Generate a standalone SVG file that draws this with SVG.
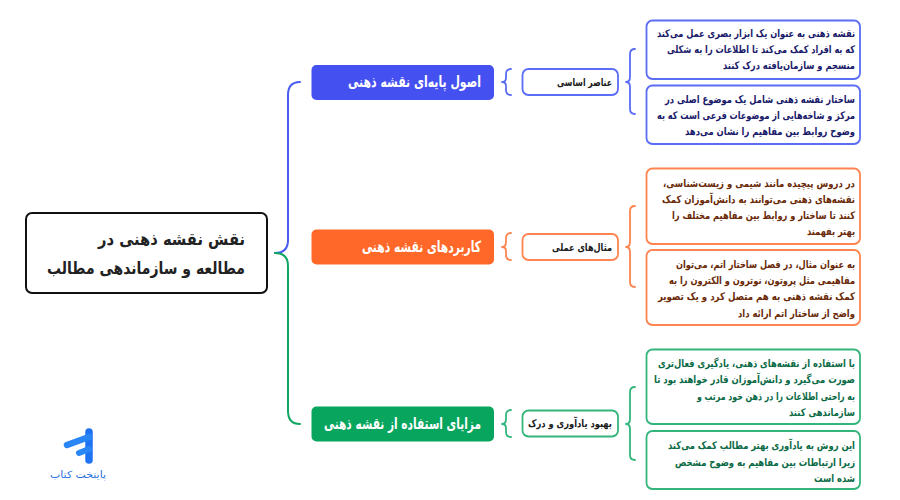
<svg xmlns="http://www.w3.org/2000/svg" width="900" height="500" viewBox="0 0 900 500">
<style>
text{font-family:"DejaVu Sans","Noto Sans",sans-serif;font-weight:700;direction:rtl;text-anchor:start}
.c{fill:none;stroke-width:1.8;stroke-linecap:round;stroke-linejoin:round}
.b{stroke:#5b6cf5}.o{stroke:#ff8450}.g{stroke:#33b57c}
.main{stroke-width:2}
.bx{fill:#fff;stroke-width:1.8}
.t{font-size:10.6px}.s{font-size:10.6px;fill:#1a1a1a}
.h{font-size:15.5px;fill:#fff}
.tb{fill:#1a1a6a}.to{fill:#6a2a08}.tg{fill:#0b6a46}
</style>
<rect width="900" height="500" fill="#fff"/>
<g id="connectors">
<path class="c main" stroke="#4a5cf0" d="M300 82Q288 82 288 95V240Q288 253 275 253"/>
<path class="c main" stroke="#0fa763" d="M300 424Q288 424 288 411V266Q288 253 275 253"/>
<path class="c b" d="M511 69Q506 69 506 74V78Q506 82 502 82Q506 82 506 86V90Q506 95 511 95"/>
<path class="c o" d="M511 233Q506 233 506 238V242Q506 247 502 247Q506 247 506 251V255Q506 260 511 260"/>
<path class="c g" d="M511 410Q506 410 506 415V419Q506 424 502 424Q506 424 506 428V432Q506 437 511 437"/>
<path class="c b" d="M635 49Q630 49 630 54V77Q630 82 626 82Q630 82 630 87V109Q630 114 635 114"/>
<path class="c o" d="M635 206Q630 206 630 211V242Q630 247 626 247Q630 247 630 252V282Q630 287 635 287"/>
<path class="c g" d="M635 387Q630 387 630 392V419Q630 424 626 424Q630 424 630 429V455Q630 460 635 460"/>
</g>
<g id="root">
<rect x="26" y="213" width="241" height="80" rx="6" fill="#fff" stroke="#111" stroke-width="2"/>
<text x="245" y="245" font-size="17" fill="#222" textLength="147" lengthAdjust="spacingAndGlyphs">نقش نقشه ذهنی در</text>
<text x="245" y="274" font-size="17" fill="#222" textLength="198" lengthAdjust="spacingAndGlyphs">مطالعه و سازماندهی مطالب</text>
</g>
<g id="n1"><rect x="311.500" y="65" width="182.500" height="35" rx="5" fill="#4550f0"/><text class="h" x="481" y="87" textLength="133" lengthAdjust="spacingAndGlyphs">اصول پایه‌ای نقشه ذهنی</text></g>
<g id="n2"><rect x="311.500" y="229.500" width="182.500" height="35" rx="5" fill="#ff6828"/><text class="h" x="481" y="252" textLength="119" lengthAdjust="spacingAndGlyphs">کاربردهای نقشه ذهنی</text></g>
<g id="n3"><rect x="311.500" y="406.500" width="182.500" height="35" rx="5" fill="#07a55e"/><text class="h" x="481" y="429" textLength="157" lengthAdjust="spacingAndGlyphs">مزایای استفاده از نقشه ذهنی</text></g>
<g id="n1a"><rect class="bx b" x="522.500" y="69" width="95.500" height="26" rx="6"/><text class="s" x="612" y="86" textLength="55" lengthAdjust="spacingAndGlyphs">عناصر اساسی</text></g>
<g id="n2a"><rect class="bx o" x="522.500" y="234" width="95.500" height="26" rx="6"/><text class="s" x="612" y="251" textLength="60" lengthAdjust="spacingAndGlyphs">مثال‌های عملی</text></g>
<g id="n3a"><rect class="bx g" x="522.500" y="410.500" width="95.500" height="26" rx="6"/><text class="s" x="612" y="427" textLength="84" lengthAdjust="spacingAndGlyphs">بهبود یادآوری و درک</text></g>
<g id="n1a1"><rect class="bx b" x="646.500" y="20.500" width="213.500" height="58.500" rx="6"/>
<text class="t tb" x="855" y="37" textLength="198" lengthAdjust="spacingAndGlyphs">نقشه ذهنی به عنوان یک ابزار بصری عمل می‌کند</text>
<text class="t tb" x="855" y="53" textLength="188" lengthAdjust="spacingAndGlyphs">که به افراد کمک می‌کند تا اطلاعات را به شکلی</text>
<text class="t tb" x="855" y="69" textLength="132" lengthAdjust="spacingAndGlyphs">منسجم و سازمان‌یافته درک کنند</text></g>
<g id="n1a2"><rect class="bx b" x="646.500" y="85.500" width="213.500" height="58.500" rx="6"/>
<text class="t tb" x="855" y="103" textLength="190" lengthAdjust="spacingAndGlyphs">ساختار نقشه ذهنی شامل یک موضوع اصلی در</text>
<text class="t tb" x="855" y="119" textLength="198" lengthAdjust="spacingAndGlyphs">مرکز و شاخه‌هایی از موضوعات فرعی است که به</text>
<text class="t tb" x="855" y="135" textLength="170" lengthAdjust="spacingAndGlyphs">وضوح روابط بین مفاهیم را نشان می‌دهد</text></g>
<g id="n2a1"><rect class="bx o" x="646.500" y="168.500" width="213.500" height="75.500" rx="6"/>
<text class="t to" x="855" y="187" textLength="192" lengthAdjust="spacingAndGlyphs">در دروس پیچیده مانند شیمی و زیست‌شناسی،</text>
<text class="t to" x="855" y="203" textLength="193" lengthAdjust="spacingAndGlyphs">نقشه‌های ذهنی می‌توانند به دانش‌آموزان کمک</text>
<text class="t to" x="855" y="219" textLength="183" lengthAdjust="spacingAndGlyphs">کنند تا ساختار و روابط بین مفاهیم مختلف را</text>
<text class="t to" x="855" y="235" textLength="48" lengthAdjust="spacingAndGlyphs">بهتر بفهمند</text></g>
<g id="n2a2"><rect class="bx o" x="646.500" y="250" width="213.500" height="75" rx="6"/>
<text class="t to" x="855" y="268" textLength="179" lengthAdjust="spacingAndGlyphs">به عنوان مثال، در فصل ساختار اتم، می‌توان</text>
<text class="t to" x="855" y="284" textLength="186" lengthAdjust="spacingAndGlyphs">مفاهیمی مثل پروتون، نوترون و الکترون را به</text>
<text class="t to" x="855" y="300" textLength="197" lengthAdjust="spacingAndGlyphs">کمک نقشه ذهنی به هم متصل کرد و یک تصویر</text>
<text class="t to" x="855" y="317" textLength="117" lengthAdjust="spacingAndGlyphs">واضح از ساختار اتم ارائه داد</text></g>
<g id="n3a1"><rect class="bx g" x="646.500" y="349.500" width="213.500" height="74.500" rx="6"/>
<text class="t tg" x="855" y="367" textLength="197" lengthAdjust="spacingAndGlyphs">با استفاده از نقشه‌های ذهنی، یادگیری فعال‌تری</text>
<text class="t tg" x="855" y="383" textLength="201" lengthAdjust="spacingAndGlyphs">صورت می‌گیرد و دانش‌آموزان قادر خواهند بود تا</text>
<text class="t tg" x="855" y="400" textLength="158" lengthAdjust="spacingAndGlyphs">به راحتی اطلاعات را در ذهن خود مرتب و</text>
<text class="t tg" x="855" y="416" textLength="66" lengthAdjust="spacingAndGlyphs">سازماندهی کنند</text></g>
<g id="n3a2"><rect class="bx g" x="646.500" y="431" width="213.500" height="58" rx="6"/>
<text class="t tg" x="855" y="449" textLength="187" lengthAdjust="spacingAndGlyphs">این روش به یادآوری بهتر مطالب کمک می‌کند</text>
<text class="t tg" x="855" y="466" textLength="180" lengthAdjust="spacingAndGlyphs">زیرا ارتباطات بین مفاهیم به وضوح مشخص</text>
<text class="t tg" x="855" y="482" textLength="41" lengthAdjust="spacingAndGlyphs">شده است</text></g>
<g id="logo">
<path d="M89 432V460" stroke="#1f73f2" stroke-width="7.500" stroke-linecap="round" fill="none"/>
<path d="M67 445L89 437" stroke="#2a86f5" stroke-width="6.500" stroke-linecap="round" fill="none"/>
<path d="M79 453L89 449" stroke="#2a86f5" stroke-width="6" stroke-linecap="round" fill="none"/>
<text x="106" y="478" font-size="10" style="font-weight:400" fill="#1f6fe0" textLength="56" lengthAdjust="spacingAndGlyphs">پایتخت کتاب</text>
</g>
</svg>
